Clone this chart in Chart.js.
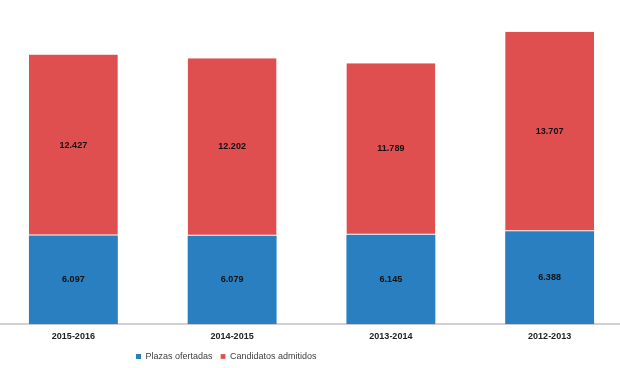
<!DOCTYPE html>
<html><head><meta charset="utf-8">
<script src="https://cdn.jsdelivr.net/npm/chart.js@4"></script>
<style>
html,body{margin:0;padding:0;background:#fff;overflow:hidden;width:620px;height:368px;}
#wrap{position:absolute;left:-6px;top:0;width:635px;height:368px;}
</style></head><body>
<div id="wrap"><canvas id="c" width="635" height="368"></canvas></div>
<script>
const categories = ["2015-2016", "2014-2015", "2013-2014", "2012-2013"];
const plazasOfertadas = [6097, 6079, 6145, 6388];
const candidatosAdmitidos = [12427, 12202, 11789, 13707];
const seriesNames = ["Plazas ofertadas", "Candidatos admitidos"];

function fmt(v){ return String(v).replace(/\B(?=(\d{3})+(?!\d))/g, "."); }

const labelPlugin = {
  id: 'segLabels',
  afterDatasetsDraw(chart){
    const ctx = chart.ctx;
    ctx.save();
    ctx.font = 'bold 9px "Liberation Sans", Arial, sans-serif';
    ctx.fillStyle = '#111';
    ctx.textAlign = 'center';
    ctx.textBaseline = 'middle';
    chart.data.datasets.forEach((ds, di) => {
      chart.getDatasetMeta(di).data.forEach((bar, i) => {
        const y = (bar.y + bar.base) / 2;
        ctx.fillText(fmt(ds.data[i]), bar.x, y);
      });
    });
    ctx.restore();
  }
};

const legendShift = {
  id: 'legendShift',
  afterLayout(chart){
    const lg = chart.legend;
    if (lg) {
      const w = lg.right - lg.left, h = lg.bottom - lg.top;
      lg.left = 134; lg.right = 134 + w;
      lg.top = 344; lg.bottom = 344 + h;
    }
  }
};

new Chart(document.getElementById('c'), {
  type: 'bar',
  data: {
    labels: categories,
    datasets: [
      { label: seriesNames[0], data: plazasOfertadas, backgroundColor: '#2a7fc0', borderWidth: 0 },
      { label: seriesNames[1], data: candidatosAdmitidos, backgroundColor: '#df4f4f', borderColor: '#ffffff', borderWidth: {bottom: 1, top: 0, left: 0, right: 0}, borderSkipped: false }
    ]
  },
  options: {
    responsive: false,
    animation: false,
    layout: { padding: { top: 4, bottom: 0, left: 0, right: 0 } },
    datasets: { bar: { categoryPercentage: 1, barPercentage: 0.56 } },
    scales: {
      x: {
        stacked: true,
        grid: { display: false },
        border: { display: true, color: '#d0d0d0', width: 2 },
        ticks: { color: '#222', font: { family: '"Liberation Sans", Arial, sans-serif', size: 9, weight: 'bold' }, padding: -1 }
      },
      y: {
        stacked: true, display: false, min: 0, max: 22000
      }
    },
    plugins: {
      legend: {
        position: 'bottom', align: 'start',
        labels: { boxWidth: 5, boxHeight: 5, padding: 8, color: '#404040', font: { family: '"Liberation Sans", Arial, sans-serif', size: 9 } }
      },
      tooltip: { enabled: false }
    }
  },
  plugins: [labelPlugin, legendShift]
});
</script>
</body></html>
